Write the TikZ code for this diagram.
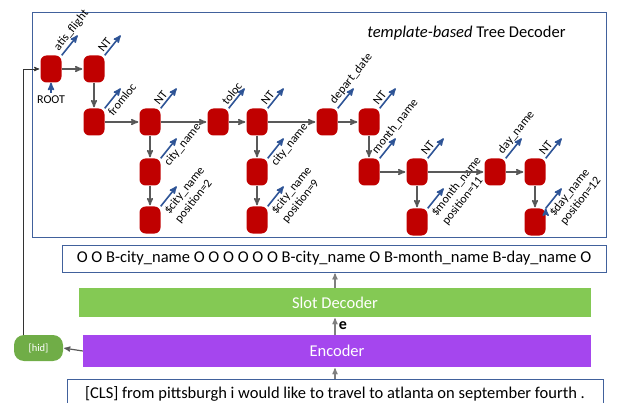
\documentclass[tikz,border=0pt]{standalone}
\usepackage{fontspec}
\setmainfont{Carlito}
\usetikzlibrary{arrows,positioning}

\definecolor{tokred}{HTML}{C00000}
\definecolor{outblue}{HTML}{2F5597}
\definecolor{flowgray}{HTML}{595959}
\definecolor{linkgray}{HTML}{7F7F7F}
\definecolor{slotgreen}{HTML}{84C954}
\definecolor{encpurple}{HTML}{A546EE}
\definecolor{hidgreen}{HTML}{70AD47}
\definecolor{boxblue}{HTML}{41619C}

\begin{document}
\begin{tikzpicture}[x=1pt,y=1pt,>=stealth',shorten >=1pt,node distance=50pt,
  tok/.style={fill=tokred,rounded corners=6pt,minimum width=21pt,minimum height=27pt,inner sep=0pt},
  flow/.style={->,draw=flowgray,line width=1.5pt},
  emit/.style={->,draw=outblue,line width=1.6pt,shorten >=0pt},
  link/.style={->,draw=linkgray,line width=1.2pt},
  tagl/.style={sloped,pos=-0.05,anchor=south west,inner sep=2pt,font=\fontsize{12}{13}\selectfont},
  tagr/.style={sloped,pos=-0.2,anchor=north west,inner sep=3pt,align=left,font=\fontsize{12}{14}\selectfont},
  bar/.style={text=white,font=\fontsize{16.5}{18}\selectfont}]

\useasboundingbox (0,0) rectangle (626,402);

% tree decoder frame
\draw[boxblue,line width=0.8pt] (32,165) rectangle (606,390);
\node (title) at (466.5,369) {\fontsize{16.5}{18}\selectfont\textit{template-based} Tree Decoder};

\node[tok] (atis) at (51,333) {};
\node[tok] (nt1) [right of=atis,node distance=43pt] {};
\node[tok] (from) [below of=nt1,node distance=53pt] {};
\node[tok] (nt2) [right of=from,node distance=56pt] {};
\node[tok] (to) [right of=nt2,node distance=68pt] {};
\node[tok] (nt3) [right of=to,node distance=39pt] {};
\node[tok] (date) [right of=nt3,node distance=70pt] {};
\node[tok] (nt4) [right of=date,node distance=42pt] {};
\node[tok] (city1) [below of=nt2] {};
\node[tok] (scity1) [below of=city1,node distance=48pt] {};
\node[tok] (city2) [below of=nt3] {};
\node[tok] (scity2) [below of=city2,node distance=48pt] {};
\node[tok] (month) [below of=nt4] {};
\node[tok] (nt5) [right of=month,node distance=48pt] {};
\node[tok] (day) [right of=nt5,node distance=78pt] {};
\node[tok] (nt6) [right of=day,node distance=40pt] {};
\node[tok] (smonth) [below of=nt5] {};
\node[tok] (sday) [below of=nt6] {};

\node (root) [below of=atis,node distance=31pt,font=\fontsize{12}{13}\selectfont] {ROOT};

\foreach \n in {atis,nt1,from,nt2,to,nt3,date,nt4,city1,scity1,city2,scity2,month,nt5,day,nt6,smonth,sday}
  \coordinate (\n-t) at ([shift={(16,20)}]\n.north east);

\path[emit] (root) edge (atis)
  (atis.north east) edge node[tagl]{atis\_flight} (atis-t)
  (nt1.north east) edge node[tagl]{NT} (nt1-t)
  (from.north east) edge node[tagr]{fromloc} (from-t)
  (nt2.north east) edge node[tagl]{NT} (nt2-t)
  (to.north east) edge node[tagl]{toloc} (to-t)
  (nt3.north east) edge node[tagl]{NT} (nt3-t)
  (date.north east) edge node[tagl]{depart\_date} (date-t)
  (nt4.north east) edge node[tagl]{NT} (nt4-t)
  (city1.north east) edge node[tagr]{city\_name} (city1-t)
  (scity1.north east) edge node[tagr]{\$city\_name\\position=2} (scity1-t)
  (city2.north east) edge node[tagr]{city\_name} (city2-t)
  (scity2.north east) edge node[tagr]{\$city\_name\\position=9} (scity2-t)
  (month.north east) edge node[tagl]{month\_name} (month-t)
  (nt5.north east) edge node[tagl]{NT} (nt5-t)
  (day.north east) edge node[tagl]{day\_name} (day-t)
  (nt6.north east) edge node[tagl]{NT} (nt6-t)
  (smonth.north east) edge node[tagr]{\$month\_name\\position=11} (smonth-t)
  (sday.north east) edge node[tagr]{\$day\_name\\position=12} (sday-t);

\path[flow] (atis) edge (nt1)
  (nt1) edge (from)
  (from) edge (nt2)
  (nt2) edge (to) edge (city1)
  (to) edge (nt3)
  (nt3) edge (date) edge (city2)
  (date) edge (nt4)
  (nt4) edge (month)
  (city1) edge (scity1)
  (city2) edge (scity2)
  (month) edge (nt5)
  (nt5) edge (day) edge (smonth)
  (day) edge (nt6)
  (nt6) edge (sday);

% slot tagging part
\node[draw=boxblue,line width=0.8pt,minimum width=544pt,minimum height=27pt,font=\fontsize{16.5}{18}\selectfont] (tags) at (334,143.5)
  {O O B-city\_name O O O O O O B-city\_name O B-month\_name B-day\_name O};
\node[bar,fill=slotgreen,minimum width=512pt,minimum height=29pt] (slot) at (335,99.5) {Slot Decoder};
\node[bar,fill=encpurple,minimum width=508pt,minimum height=32pt] (enc) at (337,51) {Encoder};
\node[fill=hidgreen,rounded corners=10pt,minimum width=49pt,minimum height=26pt,text=white,font=\fontsize{10.5}{12}\selectfont] (hid) at (38.5,54) {[hid]};
\node[draw=boxblue,line width=0.8pt,anchor=north,minimum width=536pt,inner ysep=7pt,font=\fontsize{16.5}{18}\selectfont] (input) at (335,23)
  {[CLS] from pittsburgh i would like to travel to atlanta on september fourth .};

\coordinate (turn) at (23,0);

\draw[link] (slot.north) -- (slot.north |- tags.south);
\draw[link] (enc.north -| slot.south) -- node[right,font=\fontsize{16}{18}\selectfont]{\textbf{e}} (slot.south);
\draw[link] (input.north -| slot.south) -- (enc.south -| slot.south);
\draw[link,draw=flowgray] (enc.west) -- (hid.east);
\draw[->,draw=black!80,line width=0.9pt] (hid.north -| turn) |- (atis.west);

\end{tikzpicture}
\end{document}
